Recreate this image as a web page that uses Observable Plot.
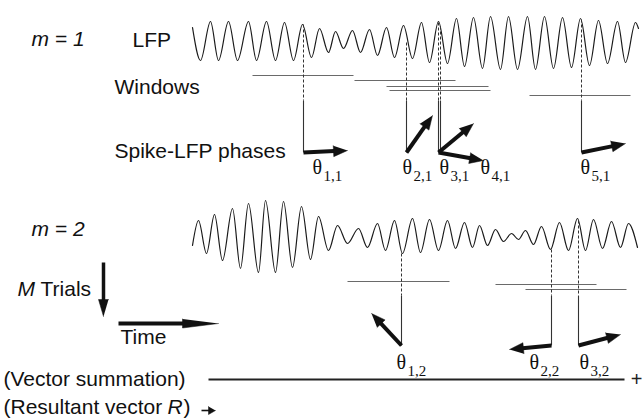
<!DOCTYPE html>
<html>
<head>
<meta charset="utf-8">
<script src="https://cdn.jsdelivr.net/npm/d3@7"></script>
<script src="https://cdn.jsdelivr.net/npm/@observablehq/plot@0.6"></script>
<style>
  html, body { margin: 0; padding: 0; background: #fff; }
  #chart svg { display: block; }
</style>
</head>
<body>
<div id="chart"></div>
<script>
// ---- Data (diagram units = pixels) ----
// LFP trace extrema, trial m = 1 (x, y)
const lfp1 = [[192,27],[200,60],[210,21],[218,60],[228,21],[237,60],[248,21],[256,60],[266,21],[275,60],[284,22],[293,60],[302,24],[311,57],[319,28],[328,52],[335,31],[343,48],[352,30],[360,52],[369,29],[377,55],[386,27],[394,57],[403,25],[412,58],[421,22],[429,62],[438,21],[447,63],[456,18],[464,66],[473,17],[482,68],[490,16],[500,69],[508,16],[517,69],[527,16],[535,69],[544,16],[553,68],[562,17],[571,67],[580,18],[589,65],[598,20],[607,63],[617,21],[625,62],[635,22],[638,28]];
// LFP trace extrema, trial m = 2
const lfp2 = [[192,245],[198,220],[206,253],[214,214],[222,260],[232,208],[240,268],[248,203],[258,272],[265,200],[275,272],[283,201],[292,267],[301,206],[310,259],[318,216],[328,250],[337,225],[347,243],[358,228],[367,247],[377,223],[385,250],[394,220],[402,253],[412,218],[420,252],[429,219],[438,250],[447,220],[455,248],[464,222],[472,247],[479,225],[487,245],[495,229],[503,241],[511,233],[518,239],[525,230],[533,244],[541,226],[550,249],[559,222],[568,250],[577,218],[585,250],[593,219],[602,248],[611,221],[620,247],[628,223],[637,247]];

// Analysis windows [x1, x2, y]
const windows1 = [[252,353,75],[354,455,80],[386,488,86],[389,490,90],[529,630,95]];
const windows2 = [[347,449,281],[495,596,284],[525,626,289]];

// Spike times (x), top of dashed drop (y on LFP), end of dashed, end of solid
const spikes1X = [303, 406, 438, 440, 581];
const spikes1Top = [24, 42, 22, 26, 19];
const spikes1Mid = 100, spikes1Bottom = 152;
const spikes2X = [401, 551, 578];
const spikes2Top = [253, 249, 220];
const spikes2Mid = 295, spikes2Bottom = 345;

// Phase vectors: tail and tip
const phase1Tail = [[303,152],[406,152],[438,152],[438,152],[581,152]];
const phase1Tip  = [[347,150],[432,115],[473,123],[483,160],[625,143]];
const phase2Tail = [[401,345],[551,345],[578,345]];
const phase2Tip  = [[371,313],[509,349],[620,334]];

// Phase labels
const theta1Sub = ["1,1","2,1","3,1","4,1","5,1"];
const theta1X = [312, 402, 439, 480, 580];
const theta1Y = 173;
const theta2Sub = ["1,2","2,2","3,2"];
const theta2X = [396, 529, 579];
const theta2Y = 368;

// Axis-style arrows
const trialsArrow = [[103,262],[103,316]];
const timeArrow = [[118,323],[218,323]];
const resultArrow = [[201,410],[215,410]];
const sumLine = [[208,379],[624,379]];

// Left-hand text labels [text, x, baseline y, style]
const labels = [
  ["m = 1", 31, 45, "italic"],
  ["LFP", 132, 46, "normal"],
  ["Windows", 114, 93, "normal"],
  ["Spike-LFP phases", 114, 157, "normal"],
  ["m = 2", 31, 235, "italic"],
  ["M", 17, 295, "italic"],
  ["Trials", 40, 295, "normal"],
  ["Time", 120, 343, "normal"],
  ["(Vector summation)", 3, 385, "normal"],
  ["(Resultant vector ", 3, 413, "normal"],
  ["R", 167, 413, "italic"],
  [")", 183, 413, "normal"]
];

// ---- helpers to build arrow geometry from the tail/tip data ----
function arrowParts(tails, tips, headLen, headHalf, prefix) {
  const shafts = [], heads = [];
  tails.forEach((t, i) => {
    const p = tips[i];
    const dx = p[0] - t[0], dy = p[1] - t[1];
    const d = Math.hypot(dx, dy);
    const ux = dx / d, uy = dy / d;
    const bx = p[0] - ux * headLen, by = p[1] - uy * headLen;
    shafts.push({x1: t[0], y1: t[1], x2: bx + ux, y2: by + uy});
    const nx = -uy, ny = ux;
    const id = prefix + i;
    heads.push({id, x: p[0], y: p[1]});
    heads.push({id, x: bx + nx * headHalf, y: by + ny * headHalf});
    heads.push({id, x: bx - nx * headHalf, y: by - ny * headHalf});
  });
  return {shafts, heads};
}

const phaseArrows = arrowParts(
  phase1Tail.concat(phase2Tail), phase1Tip.concat(phase2Tip), 14, 5.5, "p");
const trialsA = arrowParts([trialsArrow[0]], [trialsArrow[1]], 17, 5, "m");
const timeA = arrowParts([timeArrow[0]], [timeArrow[1]], 36, 4.5, "t");
const resA = arrowParts([resultArrow[0]], [resultArrow[1]], 7, 4, "r");

const winRows = windows1.concat(windows2).map(w => ({x1: w[0], x2: w[1], y: w[2]}));
const dashRows = spikes1X.map((x, i) => ({x, y1: spikes1Top[i], y2: spikes1Mid}))
  .concat(spikes2X.map((x, i) => ({x, y1: spikes2Top[i], y2: spikes2Mid})));
const solidRows = spikes1X.map(x => ({x, y1: spikes1Mid, y2: spikes1Bottom}))
  .concat(spikes2X.map(x => ({x, y1: spikes2Mid, y2: spikes2Bottom})));
const thetaRows = theta1Sub.map((s, i) => ({s, x: theta1X[i], y: theta1Y}))
  .concat(theta2Sub.map((s, i) => ({s, x: theta2X[i], y: theta2Y})));
const labelRows = labels.map(([t, x, y, st]) => ({t, x, y, st}));

const SANS = "Liberation Sans, Arial, Helvetica, sans-serif";
const SERIF = "Liberation Serif, Times New Roman, serif";
const FS = 21;

const chart = Plot.plot({
  width: 644,
  height: 419,
  margin: 0,
  style: {background: "#fff"},
  x: {domain: [0, 644], range: [0, 644], axis: null},
  y: {domain: [0, 419], range: [0, 419], axis: null},
  marks: [
    // LFP traces
    Plot.line(lfp1, {x: d => d[0], y: d => d[1], curve: "monotone-x", stroke: "#1a1a1a", strokeWidth: 1.2}),
    Plot.line(lfp2, {x: d => d[0], y: d => d[1], curve: "monotone-x", stroke: "#1a1a1a", strokeWidth: 1.2}),
    // windows
    Plot.link(winRows, {x1: "x1", x2: "x2", y1: "y", y2: "y", stroke: "#6a6a6a", strokeWidth: 1.2}),
    // spike drops
    Plot.link(dashRows, {x1: "x", x2: "x", y1: "y1", y2: "y2", stroke: "#333", strokeWidth: 1, strokeDasharray: "3,2"}),
    Plot.link(solidRows, {x1: "x", x2: "x", y1: "y1", y2: "y2", stroke: "#333", strokeWidth: 1.1}),
    // phase vectors
    Plot.link(phaseArrows.shafts, {x1: "x1", y1: "y1", x2: "x2", y2: "y2", stroke: "#111", strokeWidth: 4}),
    Plot.line(phaseArrows.heads, {x: "x", y: "y", z: "id", fill: "#111", stroke: "#111", strokeWidth: 0.5}),
    // trials / time / result arrows
    Plot.link(trialsA.shafts, {x1: "x1", y1: "y1", x2: "x2", y2: "y2", stroke: "#111", strokeWidth: 3.5}),
    Plot.line(trialsA.heads, {x: "x", y: "y", z: "id", fill: "#111", stroke: "#111", strokeWidth: 0.5}),
    Plot.link(timeA.shafts, {x1: "x1", y1: "y1", x2: "x2", y2: "y2", stroke: "#111", strokeWidth: 4}),
    Plot.line(timeA.heads, {x: "x", y: "y", z: "id", fill: "#111", stroke: "#111", strokeWidth: 0.5}),
    Plot.link(resA.shafts, {x1: "x1", y1: "y1", x2: "x2", y2: "y2", stroke: "#111", strokeWidth: 1.6}),
    Plot.line(resA.heads, {x: "x", y: "y", z: "id", fill: "#111", stroke: "#111", strokeWidth: 0.5}),
    // vector summation line
    Plot.link([sumLine], {x1: d => d[0][0], y1: d => d[0][1], x2: d => d[1][0], y2: d => d[1][1], stroke: "#222", strokeWidth: 1.8}),
    Plot.text(["+"], {x: sumLine[1][0] + 12, y: sumLine[1][1], text: d => d, fontSize: 20, fontFamily: SANS, fill: "#222", textAnchor: "middle"}),
    // theta labels
    Plot.text(thetaRows, {x: "x", y: "y", text: () => "θ", fontSize: 20, fontFamily: SERIF, textAnchor: "start", lineAnchor: "bottom", fill: "#111"}),
    Plot.text(thetaRows, {x: d => d.x + 11, y: d => d.y + 7, text: "s", fontSize: 15, fontFamily: SERIF, textAnchor: "start", lineAnchor: "bottom", fill: "#111"}),
    // left labels
    Plot.text(labelRows.filter(d => d.st === "normal"), {x: "x", y: "y", text: "t", fontSize: FS, fontFamily: SANS, textAnchor: "start", lineAnchor: "bottom", fill: "#111"}),
    Plot.text(labelRows.filter(d => d.st === "italic"), {x: "x", y: "y", text: "t", fontSize: FS, fontStyle: "italic", fontFamily: SANS, textAnchor: "start", lineAnchor: "bottom", fill: "#111"})
  ]
});
document.getElementById("chart").appendChild(chart);
</script>
</body>
</html>
